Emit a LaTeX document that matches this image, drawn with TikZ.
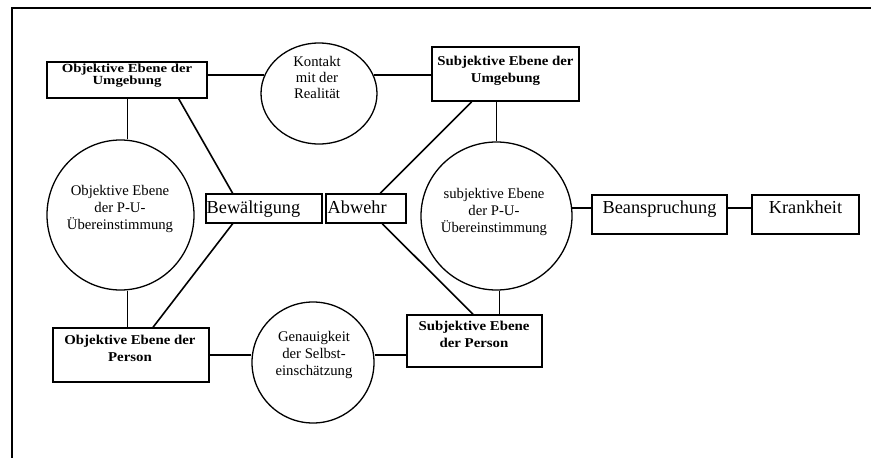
\documentclass[tikz,border=0pt]{standalone}
\usepackage{fontspec}
\setmainfont{Liberation Serif}
\newfontfamily\boxfont[FakeStretch=1.1]{Liberation Serif}
\newfontfamily\boxfontwide[FakeStretch=1.19]{Liberation Serif}
\usetikzlibrary{shapes.geometric,calc}
\begin{document}
\begin{tikzpicture}[x=1pt,y=-1pt,
  box/.style={draw, line width=1.5pt, rectangle, inner sep=0pt},
  oval/.style={draw, line width=1.3pt, ellipse, inner sep=0pt},
  conn/.style={line width=1.6pt},
  thinconn/.style={line width=0.8pt},
  bt/.style={font={\boxfont\bfseries\fontsize{13.5}{#1}\selectfont\lineskiplimit=-20pt}, align=center, inner sep=0pt},
  btw/.style={font={\boxfontwide\bfseries\fontsize{12.4}{#1}\selectfont\lineskiplimit=-20pt}, align=center, inner sep=0pt},
  ct/.style={font={\fontsize{14.7}{#1}\selectfont\lineskiplimit=-20pt}, align=center, inner sep=0pt},
  big/.style={font={\fontsize{18.3}{20}\selectfont}, inner sep=0pt}
]
\useasboundingbox (0,0) rectangle (871,458);
% frame
\draw[line width=1.4pt] (12,458) -- (12,8) -- (871,8);

% boxes
\node[box, minimum width=160pt, minimum height=36pt] (OU) at (127,80) {};
\node[box, minimum width=147pt, minimum height=54pt] (SU) at (505.5,74) {};
\node[box, minimum width=156pt, minimum height=54pt] (OP) at (131,355) {};
\node[box, minimum width=135pt, minimum height=52pt] (SP) at (474.5,341) {};
\node[box, minimum width=116pt, minimum height=29pt] (Bew) at (264,208.5) {};
\node[box, minimum width=80pt, minimum height=29pt] (Abw) at (366,208.5) {};
\node[box, minimum width=135pt, minimum height=39pt] (Bean) at (659.5,214.5) {};
\node[box, minimum width=107pt, minimum height=39pt] (Krank) at (805.5,214.5) {};

% ellipses
\node[oval, minimum width=116pt, minimum height=101pt] (Kon) at (319,93.5) {};
\node[oval, minimum width=147pt, minimum height=150pt] (OPU) at (120.5,215) {};
\node[oval, minimum width=151pt, minimum height=148pt] (SPU) at (496.5,216) {};
\node[oval, minimum width=122pt, minimum height=121pt] (Gen) at (313,362.5) {};

% texts
\node[btw=12.5] (OU-t) at (127,75.5) {Objektive Ebene der\\Umgebung};
\node[bt=17] (SU-t) at (505.5,70.8) {Subjektive Ebene der\\Umgebung};
\node[bt=17] (OP-t) at (130,347.9) {Objektive Ebene der\\Person};
\node[bt=17] (SP-t) at (474,333.9) {Subjektive Ebene\\der Person};
\node[ct=16] (Kon-t) at (317,77.4) {Kontakt\\mit der\\Realität};
\node[ct=17] (OPU-t) at (120,208.6) {Objektive Ebene\\der P-U-\\Übereinstimmung};
\node[ct=16.7] (SPU-t) at (494,212) {subjektive Ebene\\der P-U-\\Übereinstimmung};
\node[ct=17.3] (Gen-t) at (314,355) {Genauigkeit\\der Selbst-\\einschätzung};
\node[big, anchor=base west] (Bew-t) at (206.5,213.3) {Bewältigung};
\node[big, anchor=base west] (Abw-t) at (327.5,213.3) {Abwehr};
\node[big, anchor=base] (Bean-t) at (659.5,213.3) {Beanspruchung};
\node[big, anchor=base] (Krank-t) at (805.5,213.3) {Krankheit};

% connectors
\draw[conn] (OU.east |- Kon.161) -- (Kon.161);
\draw[conn] (Kon.19) -- (Kon.19 -| SU.west);
\draw[thinconn] (OU.south) -- (OU.south |- OPU.north);
\draw[thinconn] (OU.south |- OPU.south) -- (OU.south |- OP.north);
\draw[thinconn] (SPU.north |- SU.south) -- (SPU.north);
\draw[thinconn] ([xshift=3pt]SPU.south) -- ([xshift=3pt]SPU.south |- SP.north);
\draw[conn] ($(OU.south west)!0.82!(OU.south east)$) -- ($(Bew.north west)!0.233!(Bew.north east)$);
\draw[conn] ($(Bew.south west)!0.233!(Bew.south east)$) -- ($(OP.north west)!0.64!(OP.north east)$);
\draw[conn] ($(Abw.north west)!0.675!(Abw.north east)$) -- ($(SU.south west)!0.272!(SU.south east)$);
\draw[conn] ($(Abw.south west)!0.7!(Abw.south east)$) -- ($(SP.north west)!0.489!(SP.north east)$);
\draw[conn] (SPU.6) -- (SPU.6 -| Bean.west);
\draw[conn] (Bean.east |- SPU.6) -- (Krank.west |- SPU.6);
\draw[conn] (OP.east) -- (OP.east -| Gen.west);
\draw[conn] (Gen.east |- OP.east) -- (SP.west |- OP.east);
\end{tikzpicture}
\end{document}
